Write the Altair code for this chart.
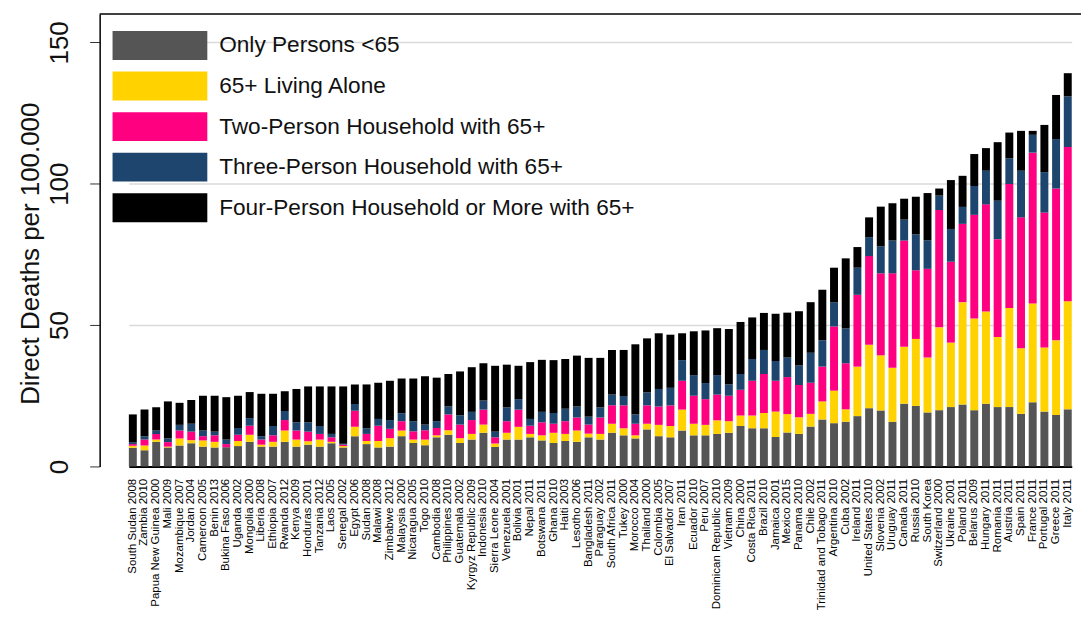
import altair as alt
import pandas as pd

countries = [
    "South Sudan 2008", "Zambia 2010", "Papua New Guinea 2000", "Mali 2009", "Mozambique 2007",
    "Jordan 2004", "Cameroon 2005", "Benin 2013", "Bukina Faso 2006", "Uganda 2002",
    "Mongolia 2000", "Liberia 2008", "Ethiopia 2007", "Rwanda 2012", "Kenya 2009",
    "Honduras 2001", "Tanzania 2012", "Laos 2005", "Senegal 2002", "Egypt 2006",
    "Sudan 2008", "Malawi 2008", "Zimbabwe 2012", "Malaysia 2000", "Nicaragua 2005",
    "Togo 2010", "Cambodia 2008", "Philippines 2010", "Guatemala 2002", "Kyrgyz Republic 2009",
    "Indonesia 2010", "Sierra Leone 2004", "Venezuela 2001", "Bolivia 2001", "Nepal 2011",
    "Botswana 2011", "Ghana 2010", "Haiti 2003", "Lesotho 2006", "Bangladesh 2011",
    "Paraguay 2002", "South Africa 2011", "Tukey 2000", "Morocco 2004", "Thailand 2000",
    "Colombia 2005", "El Salvador 2007", "Iran 2011", "Ecuador 2010", "Peru 2007",
    "Dominican Republic 2010", "Vietnam 2009", "China 2000", "Costa Rica 2011", "Brazil 2010",
    "Jamaica 2001", "Mexico 2015", "Panama 2010", "Chile 2002", "Trinidad and Tobago 2011",
    "Argentina 2010", "Cuba 2002", "Ireland 2011", "United States 2010", "Slovenia 2002",
    "Uruguay 2011", "Canada 2011", "Russia 2010", "South Korea", "Switzerland 2000",
    "Ukraine 2001", "Poland 2011", "Belarus 2009", "Hungary 2011", "Romania 2011",
    "Austria 2011", "Spain 2011", "France 2011", "Portugal 2011", "Greece 2011", "Italy 2011",
]

only_under65 = [
    6.6, 5.7, 8.7, 6.7, 7.4, 8.2, 7.0, 6.7, 6.8, 7.2,
    8.7, 7.0, 7.0, 8.7, 7.0, 7.7, 7.0, 8.2, 6.7, 10.7,
    7.9, 6.7, 7.0, 10.7, 8.3, 7.5, 10.3, 11.2, 8.3, 9.5,
    11.9, 6.9, 9.5, 9.5, 10.3, 9.2, 8.3, 9.0, 8.7, 10.3,
    9.5, 11.9, 11.0, 9.9, 13.1, 10.7, 10.3, 12.7, 11.0, 11.0,
    11.5, 11.9, 14.3, 13.5, 13.5, 10.4, 12.0, 11.5, 14.1, 16.6,
    15.3, 15.8, 17.8, 20.6, 19.8, 15.8, 22.2, 21.4, 19.1, 19.9,
    21.0, 21.9, 19.9, 22.2, 21.0, 21.0, 18.6, 22.7, 19.4, 18.2, 20.2,
]
alone65 = [
    0.7, 1.7, 0.8, 0.3, 2.5, 1.1, 2.2, 2.0, 0.0, 1.8,
    2.5, 0.7, 1.7, 4.0, 2.5, 1.2, 2.5, 0.5, 0.5, 3.3,
    1.1, 2.3, 3.0, 2.0, 1.2, 2.0, 0.7, 1.6, 1.7, 2.0,
    2.9, 1.2, 2.4, 4.5, 1.2, 1.8, 3.6, 2.5, 4.0, 1.3,
    2.0, 3.2, 2.5, 1.1, 2.0, 4.0, 4.0, 7.4, 4.1, 3.7,
    4.8, 4.1, 3.7, 4.5, 5.4, 9.0, 6.5, 5.9, 4.5, 6.4,
    11.5, 4.4, 17.5, 22.4, 19.5, 19.1, 20.1, 23.7, 19.4, 29.3,
    22.8, 36.2, 32.4, 32.6, 24.8, 35.0, 23.2, 34.9, 22.7, 26.4, 38.2,
]
two_person = [
    0.6, 2.1, 2.0, 1.6, 2.8, 3.0, 1.5, 2.3, 1.1, 2.2,
    3.2, 1.8, 2.3, 3.7, 3.2, 3.4, 2.0, 1.6, 0.5, 5.7,
    2.5, 5.4, 3.3, 3.3, 2.9, 3.3, 2.6, 5.6, 4.8, 4.9,
    5.3, 2.2, 4.1, 6.1, 2.9, 4.6, 3.2, 4.5, 4.6, 3.2,
    5.8, 6.5, 8.1, 4.1, 6.5, 6.5, 7.3, 10.2, 9.9, 9.1,
    9.1, 9.0, 9.1, 12.3, 13.8, 10.9, 13.1, 11.4, 11.0, 12.3,
    22.7, 16.3, 25.4, 31.4, 29.0, 33.4, 37.6, 24.3, 31.4, 41.5,
    28.6, 27.7, 36.7, 37.9, 34.6, 43.9, 46.3, 53.4, 47.7, 53.7, 54.6,
]
three_person = [
    0.7, 1.2, 1.2, 1.3, 2.0, 2.8, 2.0, 1.3, 1.6, 2.4,
    2.7, 1.2, 3.3, 3.2, 2.9, 3.3, 2.8, 1.2, 0.3, 2.4,
    2.0, 2.4, 3.1, 2.8, 3.6, 2.0, 2.4, 2.8, 3.3, 2.9,
    3.2, 2.0, 4.9, 3.7, 2.4, 3.7, 3.8, 4.4, 3.9, 2.8,
    3.6, 3.8, 3.3, 3.3, 4.6, 6.2, 6.2, 7.3, 7.3, 5.7,
    6.9, 4.0, 5.6, 7.7, 8.5, 7.0, 6.9, 6.9, 10.6, 9.3,
    8.6, 12.3, 9.6, 6.7, 9.6, 11.6, 7.4, 12.7, 10.1, 5.1,
    11.6, 6.0, 10.2, 11.9, 13.6, 9.1, 16.5, 6.3, 14.3, 17.5, 17.9,
]
four_plus = [
    9.8, 9.4, 8.2, 13.1, 7.8, 8.4, 12.3, 12.7, 15.0, 11.4,
    9.2, 15.0, 11.4, 7.0, 11.8, 12.7, 14.0, 16.8, 20.3, 6.9,
    15.5, 12.8, 13.9, 12.3, 15.1, 17.1, 15.4, 11.5, 15.5, 15.8,
    13.2, 23.3, 15.1, 11.8, 20.1, 18.4, 18.7, 17.6, 18.0, 20.8,
    17.5, 15.8, 16.3, 24.8, 19.1, 19.7, 18.8, 9.5, 15.5, 18.6,
    16.6, 19.6, 18.4, 14.7, 13.1, 16.7, 15.9, 19.2, 17.9, 17.9,
    12.2, 24.8, 7.3, 7.0, 14.0, 13.2, 7.4, 13.3, 16.7, 2.5,
    17.3, 11.0, 11.3, 8.0, 20.7, 9.1, 14.1, 1.4, 16.7, 15.6, 8.2,
]

series_names = [
    "Only Persons <65",
    "65+ Living Alone",
    "Two-Person Household with 65+",
    "Three-Person Household with 65+",
    "Four-Person Household or More with 65+",
]
series_values = [only_under65, alone65, two_person, three_person, four_plus]
series_colors = ["#555555", "#FFD200", "#FF0080", "#1D456E", "#000000"]

rows = []
for k, (name, vals) in enumerate(zip(series_names, series_values)):
    for c, v in zip(countries, vals):
        rows.append({"country": c, "series": name, "value": v, "order": k})
df = pd.DataFrame(rows)

W, H = 985, 454
FONT = "Liberation Sans"

bars = alt.Chart(df).mark_bar().encode(
    x=alt.X(
        "country:N",
        sort=countries,
        scale=alt.Scale(paddingInner=0.32, paddingOuter=0, range=[29.3, 975.7]),
        axis=alt.Axis(
            title=None, labelAngle=270, labelFontSize=11.5, labelPadding=12,
            ticks=False, domainColor="black", domainWidth=2,
            labelColor="black", labelFont=FONT, labelLimit=300, grid=False,
        ),
    ),
    y=alt.Y(
        "value:Q",
        stack="zero",
        scale=alt.Scale(domain=[0, 160], nice=False),
        axis=alt.Axis(
            values=[0, 50, 100, 150], title="Direct Deaths per 100.000",
            titleFontSize=26, titleFontWeight="normal", titleFont=FONT,
            titleColor="#111111", titleX=-56, titleY=240,
            titleAlign="center", titleBaseline="bottom", titleAngle=270,
            labelAngle=270, labelAlign="center", labelBaseline="bottom",
            labelFontSize=26, labelFont=FONT, labelColor="#111111", labelPadding=17,
            tickSize=10, tickColor="#333333", domainColor="black", domainWidth=1.5,
            grid=True, gridColor="#dadada", gridWidth=1.5,
        ),
    ),
    color=alt.Color(
        "series:N",
        scale=alt.Scale(domain=series_names, range=series_colors),
        legend=alt.Legend(
            title=None, orient="none", legendX=46, legendY=17,
            symbolType="M-3.28,-1H3.28V1H-3.28Z", symbolSize=841,
            symbolStrokeWidth=0, symbolOpacity=1,
            labelFontSize=22.7, labelFont=FONT, labelColor="#111111",
            labelOffset=45, rowPadding=11.7, labelLimit=600,
        ),
    ),
    order=alt.Order("order:Q", sort="ascending"),
)

top_line = alt.Chart(pd.DataFrame({"a": [0]})).mark_rule(color="black", strokeWidth=1.5).encode(
    y=alt.value(0), x=alt.value(0), x2=alt.value(W)
)

chart = alt.layer(bars, top_line).properties(
    width=W, height=H,
    padding={"left": 92, "top": 5, "right": 0, "bottom": 150},
    autosize=alt.AutoSizeParams(type="none"),
).configure_view(stroke=None)

chart.save("out.html", embed_options={"renderer": "svg", "actions": False})
